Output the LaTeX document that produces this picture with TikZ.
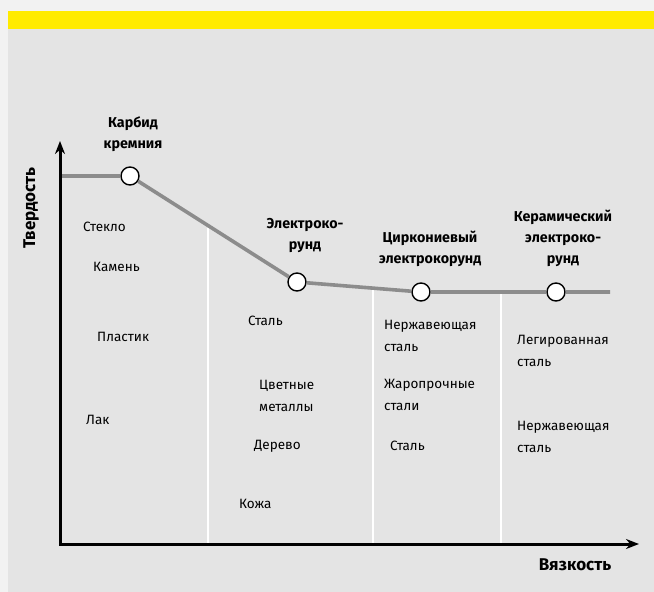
\documentclass[tikz,border=0pt]{standalone}
\usepackage{fontspec}
\setmainfont{Fira Sans}
\usetikzlibrary{arrows.meta}
\definecolor{outerc}{HTML}{F2F2F2}
\definecolor{panelc}{HTML}{E4E4E4}
\definecolor{ybarc}{HTML}{FFEB00}
\definecolor{curvec}{HTML}{8C8C8C}
\tikzset{
  mpt/.style={circle, draw=black, line width=1.4pt, fill=white, minimum size=18pt, inner sep=0pt},
  curveline/.style={draw=curvec, line width=3.6pt},
  sepline/.style={draw=white, line width=1.5pt},
  axisline/.style={draw=black, line width=3pt},
  head/.style={font=\bfseries\fontsize{14.3}{21}\selectfont, align=center, inner sep=0pt},
  item/.style={font=\fontsize{13.5}{22}\selectfont, align=left, anchor=west, inner sep=0pt},
  axlabel/.style={font=\bfseries\fontsize{17}{18}\selectfont, inner sep=0pt}
}
\begin{document}
\begin{tikzpicture}[x=1pt,y=-1pt]
\fill[outerc] (0,0) rectangle (654,592);
\useasboundingbox (0,0) rectangle (654,592);
\fill[panelc] (8,11) rectangle (654,592);
\fill[ybarc] (8,11) rectangle (654,29);

% separators
\coordinate (s1t) at (208,228); \coordinate (s1b) at (208,544);
\coordinate (s2t) at (373,290); \coordinate (s2b) at (373,544);
\coordinate (s3t) at (501,290); \coordinate (s3b) at (501,544);
\draw[sepline] (s1t) -- (s1b);
\draw[sepline] (s2t) -- (s2b);
\draw[sepline] (s3t) -- (s3b);

% curve
\coordinate (cs) at (60,176);
\coordinate (ce) at (610,292);
\node[mpt] (c1) at (130,176) {};
\node[mpt] (c2) at (297,282) {};
\node[mpt] (c3) at (421,292) {};
\node[mpt] (c4) at (556,292) {};
\draw[curveline] (cs) -- (c1) -- (c2) -- (c3) -- (c4) -- (ce);

% axes
\coordinate (ytip) at (60,141);
\coordinate (org) at (60,544);
\coordinate (xtip) at (639,544);
\draw[axisline, {Stealth[length=13pt,width=10pt]}-{Stealth[length=13pt,width=10pt]}, line join=miter] (ytip) -- (org) -- (xtip);

\node[axlabel, rotate=90] (ylab) at (31,208) {Твердость};
\node[axlabel] (xlab) at (575,565) {Вязкость};

% headings
\node[head] (h1) at (133,134) {Карбид\\кремния};
\node[head] (h2) at (305,236) {Электроко-\\рунд};
\node[head] (h3) at (430,249) {Циркониевый\\электрокорунд};
\node[head] (h4) at (563,238) {Керамический\\электроко-\\рунд};

% items
\node[item] (t1) at (83,227) {Стекло};
\node[item] (t2) at (93,267) {Камень};
\node[item] (t3) at (97,337) {Пластик};
\node[item] (t4) at (86,420) {Лак};
\node[item] (t5) at (248,321) {Сталь};
\node[item] (t6) at (259,396) {Цветные\\металлы};
\node[item] (t7) at (254,446) {Дерево};
\node[item] (t8) at (239,504) {Кожа};
\node[item] (t9) at (384,336) {Нержавеющая\\сталь};
\node[item] (t10) at (384,395) {Жаропрочные\\стали};
\node[item] (t11) at (390,446) {Сталь};
\node[item] (t12) at (517,351) {Легированная\\сталь};
\node[item] (t13) at (517,437) {Нержавеющая\\сталь};
\end{tikzpicture}
\end{document}
